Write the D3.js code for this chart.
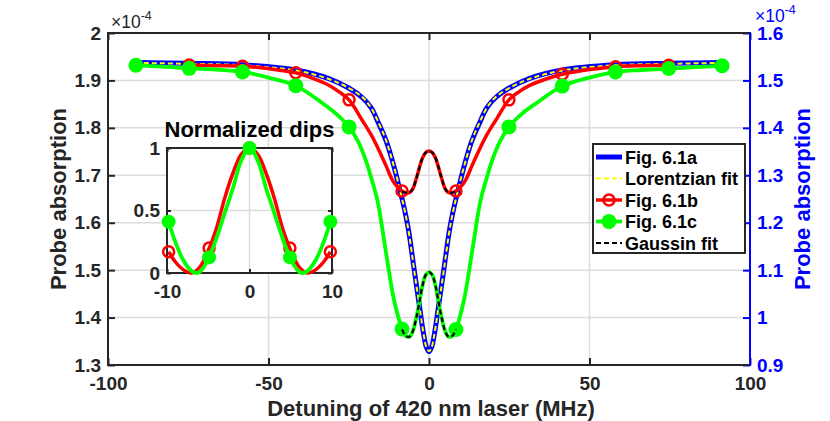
<!DOCTYPE html>
<html><head><meta charset="utf-8">
<script src="https://cdn.jsdelivr.net/npm/d3@7/dist/d3.min.js"></script>
<style>
html,body{margin:0;padding:0;background:#fff;}
svg{display:block;font-family:"Liberation Sans",Arial,Helvetica,sans-serif;}
</style></head>
<body>
<svg id="c" width="830" height="421"></svg>
<script>
// ---------- tick values / labels ----------
const xTicks = [-100, -50, 0, 50, 100];
const xTickLabels = ["-100", "-50", "0", "50", "100"];
const yLeftTicks = [1.3, 1.4, 1.5, 1.6, 1.7, 1.8, 1.9, 2.0];
const yLeftTickLabels = ["1.3", "1.4", "1.5", "1.6", "1.7", "1.8", "1.9", "2"];
const yRightTicks = [0.9, 1.0, 1.1, 1.2, 1.3, 1.4, 1.5, 1.6];
const yRightTickLabels = ["0.9", "1", "1.1", "1.2", "1.3", "1.4", "1.5", "1.6"];
const insetXTicks = [-10, 0, 10];
const insetXTickLabels = ["-10", "0", "10"];
const insetYTicks = [0, 0.5, 1];
const insetYTickLabels = ["0", "0.5", "1"];

// ---------- Fig. 6.1a (right axis, x1e-4) ----------
const blueX = [-91.3,-75,-58,-41.5,-31.2,-25,-20.8,-18,-15.6,-13.5,-11.9,-10.5,-9.3,-8.3,-7.2,-6.2,-4.7,-3.1,-1.6,-0.8,0,
               0.8,1.6,3.1,4.7,6.2,7.2,8.3,9.3,10.5,11.9,13.5,15.6,18,20.8,25,31.2,41.5,58,75,91.3];
const blueY = [1.538,1.536,1.533,1.522,1.504,1.484,1.464,1.442,1.408,1.375,1.342,1.308,1.275,1.248,1.214,1.177,1.105,1.030,0.962,0.937,0.928,
               0.937,0.962,1.030,1.105,1.177,1.214,1.248,1.275,1.308,1.342,1.375,1.408,1.442,1.464,1.484,1.504,1.522,1.533,1.536,1.538];
// ---------- Lorentzian fit (right axis) ----------
const lorY = [1.537,1.535,1.532,1.521,1.503,1.484,1.465,1.442,1.409,1.376,1.342,1.308,1.276,1.248,1.214,1.176,1.104,1.029,0.962,0.937,0.929,
              0.937,0.962,1.029,1.104,1.176,1.214,1.248,1.276,1.308,1.342,1.376,1.409,1.442,1.465,1.484,1.503,1.521,1.532,1.535,1.537];

// ---------- Fig. 6.1b (left axis) ----------
const redX = [-74.7,-66.4,-58.1,-50,-41.5,-36,-31.2,-28,-24.9,-20.8,-18,-15.6,-13.5,-11.4,-9.8,-8.4,-7,-6,-5,-4,-3,-2,-1,0,
              1,2,3,4,5,6,7,8.4,9.8,11.4,13.5,15.6,18,20.8,24.9,28,31.2,36,41.5,50,58.1,66.4,74.7];
const redY = [1.9325,1.931,1.930,1.925,1.916,1.904,1.890,1.876,1.859,1.816,1.785,1.753,1.722,1.690,1.675,1.667,1.663,1.664,1.672,1.692,1.716,1.737,1.748,1.751,
              1.748,1.737,1.716,1.692,1.672,1.664,1.663,1.667,1.675,1.690,1.722,1.753,1.785,1.816,1.859,1.876,1.889,1.902,1.913,1.923,1.929,1.931,1.932];
const redMarkX = [-74.7,-58.1,-41.5,-24.9,-8.4,8.4,24.9,41.5,58.1,74.7];
const redMarkY = [1.9325,1.930,1.916,1.859,1.667,1.667,1.859,1.913,1.929,1.932];

// ---------- Fig. 6.1c (left axis) ----------
const greenX = [-91.3,-83,-74.7,-66.4,-58.1,-50,-41.5,-33.2,-29,-24.9,-22,-19.7,-17.8,-16,-13.5,-10.9,-8.4,-7.6,-7,-6,-5,-4,-3,-2,-1,0,
                1,2,3,4,5,6,7,7.6,8.4,10.9,13.5,16,17.8,19.7,22,24.9,29,33.2,41.5,50,58.1,66.4,74.7,83,91.3];
const greenY = [1.932,1.929,1.9255,1.923,1.918,1.906,1.889,1.852,1.830,1.802,1.770,1.732,1.690,1.645,1.542,1.437,1.376,1.364,1.360,1.360,1.372,1.398,1.432,1.468,1.490,1.496,
                1.490,1.468,1.432,1.398,1.372,1.360,1.360,1.364,1.375,1.437,1.542,1.645,1.690,1.732,1.770,1.802,1.830,1.851,1.888,1.906,1.918,1.922,1.925,1.928,1.931];
const greenMarkX = [-91.3,-74.7,-58.1,-41.5,-24.9,-8.4,8.4,24.9,41.5,58.1,74.7,91.3];
const greenMarkY = [1.932,1.9255,1.918,1.889,1.802,1.376,1.375,1.802,1.888,1.918,1.925,1.931];

// ---------- Gaussian fits (left axis) ----------
const gaussRedX = [-8.4,-7,-6,-5,-4,-3,-2,-1,0,1,2,3,4,5,6,7,8.4];
const gaussRedY = [1.666,1.663,1.664,1.672,1.692,1.716,1.737,1.748,1.751,1.748,1.737,1.716,1.692,1.672,1.664,1.663,1.666];
const gaussGreenX = [-8.4,-7.6,-7,-6,-5,-4,-3,-2,-1,0,1,2,3,4,5,6,7,7.6,8.4];
const gaussGreenY = [1.375,1.364,1.360,1.360,1.372,1.398,1.432,1.468,1.490,1.496,1.490,1.468,1.432,1.398,1.372,1.360,1.360,1.364,1.375];

// ---------- Inset: normalized dips ----------
const insetRedX = [-9.8,-9,-8,-7,-6,-5,-4,-3,-2,-1,0,1,2,3,4,5,6,7,8,9,9.8];
const insetRedY = [0.17,0.09,0.025,0,0.05,0.18,0.36,0.60,0.80,0.95,1,0.95,0.80,0.60,0.36,0.18,0.05,0,0.025,0.09,0.17];
const insetRedMarkX = [-9.8,-4.9,0,4.9,9.8];
const insetRedMarkY = [0.17,0.20,1,0.20,0.17];
const insetGreenX = [-9.8,-9,-8,-7,-6.4,-6,-5,-4,-3,-2,-1,0,1,2,3,4,5,6,6.4,7,8,9,9.8];
const insetGreenY = [0.41,0.25,0.10,0.015,0,0.01,0.11,0.28,0.48,0.68,0.90,1,0.90,0.68,0.48,0.28,0.11,0.01,0,0.015,0.10,0.25,0.41];
const insetGreenMarkX = [-9.8,-4.9,0,4.9,9.8];
const insetGreenMarkY = [0.41,0.125,1,0.125,0.41];

// ---------- legend ----------
const legendLabels = ["Fig. 6.1a", "Lorentzian fit", "Fig. 6.1b", "Fig. 6.1c", "Gaussin fit"];

// ---------- styles ----------
const AX = "#262626", GRID = "#dcdcdc";
const BLUE = "#0000ff", YEL = "#ffff00", RED = "#ff0000", GRN = "#00ff00", BLK = "#000000";
const FONT_TICK = 19;

const svg = d3.select("#c");
const M = {l: 108, r: 750, t: 33, b: 365};
const x = d3.scaleLinear().domain([-100, 100]).range([M.l, M.r]);
const yL = d3.scaleLinear().domain([1.3, 2.0]).range([M.b, M.t]);
const yR = d3.scaleLinear().domain([0.9, 1.6]).range([M.b, M.t]);

svg.append("defs").append("clipPath").attr("id", "clipMain")
  .append("rect").attr("x", M.l).attr("y", M.t).attr("width", M.r - M.l).attr("height", M.b - M.t);

// grid
const grid = svg.append("g");
grid.selectAll(".gx").data(xTicks).enter().append("line")
  .attr("x1", d => x(d)).attr("x2", d => x(d)).attr("y1", M.t).attr("y2", M.b)
  .attr("stroke", GRID).attr("stroke-width", 1.5);
grid.selectAll(".gy").data(yLeftTicks).enter().append("line")
  .attr("x1", M.l).attr("x2", M.r).attr("y1", d => yL(d)).attr("y2", d => yL(d))
  .attr("stroke", GRID).attr("stroke-width", 1.5);

const curve = d3.curveCatmullRom.alpha(0.5);
function pts(xs, ys) { return xs.map((v, i) => [v, ys[i]]); }
function drawLine(g, xs, ys, xs_, ys_, color, w, dash) {
  const ln = d3.line().x(d => xs_(d[0])).y(d => ys_(d[1])).curve(curve);
  const p = g.append("path").datum(pts(xs, ys)).attr("d", ln)
    .attr("fill", "none").attr("stroke", color).attr("stroke-width", w)
    .attr("stroke-linejoin", "round");
  if (dash) p.attr("stroke-dasharray", dash);
  return p;
}

const plot = svg.append("g").attr("clip-path", "url(#clipMain)");
drawLine(plot, blueX, blueY, x, yR, BLUE, 5);
drawLine(plot, blueX, lorY, x, yR, YEL, 2, "5,3");
drawLine(plot, redX, redY, x, yL, RED, 3.5);
plot.selectAll(".rm").data(pts(redMarkX, redMarkY)).enter().append("circle")
  .attr("cx", d => x(d[0])).attr("cy", d => yL(d[1])).attr("r", 5.5)
  .attr("fill", "none").attr("stroke", RED).attr("stroke-width", 2.5);
drawLine(plot, greenX, greenY, x, yL, GRN, 3.8);
plot.selectAll(".gm").data(pts(greenMarkX, greenMarkY)).enter().append("circle")
  .attr("cx", d => x(d[0])).attr("cy", d => yL(d[1])).attr("r", 7.5).attr("fill", GRN);
drawLine(plot, gaussRedX, gaussRedY, x, yL, BLK, 2.2, "5,3");
drawLine(plot, gaussGreenX, gaussGreenY, x, yL, BLK, 2.2, "5,3");

// axes
function styleAxis(g, color, size) {
  g.select(".domain").remove();
  g.selectAll(".tick line").attr("stroke", color).attr("stroke-width", 2);
  g.selectAll(".tick text").attr("fill", color).attr("font-size", size).attr("font-weight", "bold");
}
const gB = svg.append("g").attr("transform", `translate(0,${M.b})`)
  .call(d3.axisBottom(x).tickValues(xTicks).tickFormat((d, i) => xTickLabels[i]).tickSizeInner(-7).tickSizeOuter(0).tickPadding(11.5));
styleAxis(gB, AX, FONT_TICK);
const gT = svg.append("g").attr("transform", `translate(0,${M.t})`)
  .call(d3.axisTop(x).tickValues(xTicks).tickFormat("").tickSizeInner(-7).tickSizeOuter(0));
styleAxis(gT, AX, FONT_TICK);
const gL = svg.append("g").attr("transform", `translate(${M.l},0)`)
  .call(d3.axisLeft(yL).tickValues(yLeftTicks).tickFormat((d, i) => yLeftTickLabels[i]).tickSizeInner(-7).tickSizeOuter(0).tickPadding(7));
styleAxis(gL, AX, FONT_TICK);
const gR = svg.append("g").attr("transform", `translate(${M.r},0)`)
  .call(d3.axisRight(yR).tickValues(yRightTicks).tickFormat((d, i) => yRightTickLabels[i]).tickSizeInner(-7).tickSizeOuter(0).tickPadding(7));
styleAxis(gR, BLUE, FONT_TICK);

// frame
svg.append("line").attr("x1", M.l).attr("x2", M.r).attr("y1", M.t).attr("y2", M.t).attr("stroke", AX).attr("stroke-width", 2);
svg.append("line").attr("x1", M.l).attr("x2", M.r).attr("y1", M.b).attr("y2", M.b).attr("stroke", AX).attr("stroke-width", 2);
svg.append("line").attr("x1", M.l).attr("x2", M.l).attr("y1", M.t - 1).attr("y2", M.b + 1).attr("stroke", AX).attr("stroke-width", 2);
svg.append("line").attr("x1", M.r).attr("x2", M.r).attr("y1", M.t - 1).attr("y2", M.b + 1).attr("stroke", BLUE).attr("stroke-width", 2);

// axis titles
svg.append("text").attr("x", (M.l + M.r) / 2 + 2).attr("y", 416).attr("text-anchor", "middle")
  .attr("font-size", 22).attr("font-weight", "bold").attr("fill", AX).text("Detuning of 420 nm laser (MHz)");
svg.append("text").attr("transform", `translate(66,${(M.t + M.b) / 2}) rotate(-90)`).attr("text-anchor", "middle")
  .attr("font-size", 22).attr("font-weight", "bold").attr("fill", AX).text("Probe absorption");
svg.append("text").attr("transform", `translate(810,${(M.t + M.b) / 2}) rotate(-90)`).attr("text-anchor", "middle")
  .attr("font-size", 22).attr("font-weight", "bold").attr("fill", BLUE).text("Probe absorption");

// exponents
const eL = svg.append("text").attr("x", 111).attr("y", 27.5).attr("fill", AX).attr("font-size", 17.5);
eL.append("tspan").text("×10");
eL.append("tspan").attr("font-size", 12.5).attr("dy", -8).text("-4");
const eR = svg.append("text").attr("x", 755).attr("y", 22).attr("fill", BLUE).attr("font-size", 17.5);
eR.append("tspan").text("×10");
eR.append("tspan").attr("font-size", 12.5).attr("dy", -8).text("-4");

// ---------- inset ----------
const I = {l: 167, r: 332, t: 148, b: 273};
const ix = d3.scaleLinear().domain([-10, 10]).range([I.l, I.r]);
const iy = d3.scaleLinear().domain([0, 1]).range([I.b, I.t]);
const ins = svg.append("g");
ins.append("rect").attr("x", I.l).attr("y", I.t).attr("width", I.r - I.l).attr("height", I.b - I.t).attr("fill", "#fff");
ins.selectAll(".igx").data(insetXTicks).enter().append("line")
  .attr("x1", d => ix(d)).attr("x2", d => ix(d)).attr("y1", I.t).attr("y2", I.b).attr("stroke", GRID).attr("stroke-width", 1.5);
ins.selectAll(".igy").data(insetYTicks).enter().append("line")
  .attr("x1", I.l).attr("x2", I.r).attr("y1", d => iy(d)).attr("y2", d => iy(d)).attr("stroke", GRID).attr("stroke-width", 1.5);
const iB = ins.append("g").attr("transform", `translate(0,${I.b})`)
  .call(d3.axisBottom(ix).tickValues(insetXTicks).tickFormat((d, i) => insetXTickLabels[i]).tickSizeInner(-4).tickSizeOuter(0).tickPadding(11.5));
styleAxis(iB, AX, FONT_TICK);
const iT = ins.append("g").attr("transform", `translate(0,${I.t})`)
  .call(d3.axisTop(ix).tickValues(insetXTicks).tickFormat("").tickSizeInner(-4).tickSizeOuter(0));
styleAxis(iT, AX, FONT_TICK);
const iL = ins.append("g").attr("transform", `translate(${I.l},0)`)
  .call(d3.axisLeft(iy).tickValues(insetYTicks).tickFormat((d, i) => insetYTickLabels[i]).tickSizeInner(-4).tickSizeOuter(0).tickPadding(7));
styleAxis(iL, AX, FONT_TICK);
const iR = ins.append("g").attr("transform", `translate(${I.r},0)`)
  .call(d3.axisRight(iy).tickValues(insetYTicks).tickFormat("").tickSizeInner(-4).tickSizeOuter(0));
styleAxis(iR, AX, FONT_TICK);
ins.append("rect").attr("x", I.l).attr("y", I.t).attr("width", I.r - I.l).attr("height", I.b - I.t)
  .attr("fill", "none").attr("stroke", AX).attr("stroke-width", 2);
drawLine(ins, insetRedX, insetRedY, ix, iy, RED, 3.5);
ins.selectAll(".irm").data(pts(insetRedMarkX, insetRedMarkY)).enter().append("circle")
  .attr("cx", d => ix(d[0])).attr("cy", d => iy(d[1])).attr("r", 5.5)
  .attr("fill", "none").attr("stroke", RED).attr("stroke-width", 2.5);
drawLine(ins, insetGreenX, insetGreenY, ix, iy, GRN, 3.8);
ins.selectAll(".igm").data(pts(insetGreenMarkX, insetGreenMarkY)).enter().append("circle")
  .attr("cx", d => ix(d[0])).attr("cy", d => iy(d[1])).attr("r", 7).attr("fill", GRN);
ins.append("text").attr("x", (I.l + I.r) / 2).attr("y", 137).attr("text-anchor", "middle")
  .attr("font-size", 22).attr("font-weight", "bold").attr("fill", BLK).text("Normalized dips");

// ---------- legend ----------
const L = {x: 593, y: 144, w: 152, h: 109};
const leg = svg.append("g");
leg.append("rect").attr("x", L.x).attr("y", L.y).attr("width", L.w).attr("height", L.h)
  .attr("fill", "#fff").attr("stroke", AX).attr("stroke-width", 2);
const legStyles = [
  {c: BLUE, w: 5, dash: null, m: null},
  {c: YEL, w: 2, dash: "5,3", m: null},
  {c: RED, w: 3.5, dash: null, m: "o"},
  {c: GRN, w: 3.8, dash: null, m: "dot"},
  {c: BLK, w: 2.2, dash: "5,3", m: null}
];
legendLabels.forEach((lab, i) => {
  const cy = 157 + i * 21.5;
  const s = legStyles[i];
  const ln = leg.append("line").attr("x1", 596).attr("x2", 622).attr("y1", cy).attr("y2", cy)
    .attr("stroke", s.c).attr("stroke-width", s.w);
  if (s.dash) ln.attr("stroke-dasharray", s.dash);
  if (s.m === "o") leg.append("circle").attr("cx", 609).attr("cy", cy).attr("r", 5.5)
    .attr("fill", "none").attr("stroke", s.c).attr("stroke-width", 2.5);
  if (s.m === "dot") leg.append("circle").attr("cx", 609).attr("cy", cy).attr("r", 7.5).attr("fill", s.c);
  leg.append("text").attr("x", 625).attr("y", cy + 6.5).attr("font-size", 18).attr("font-weight", "bold")
    .attr("fill", BLK).text(lab);
});
</script>
</body></html>
